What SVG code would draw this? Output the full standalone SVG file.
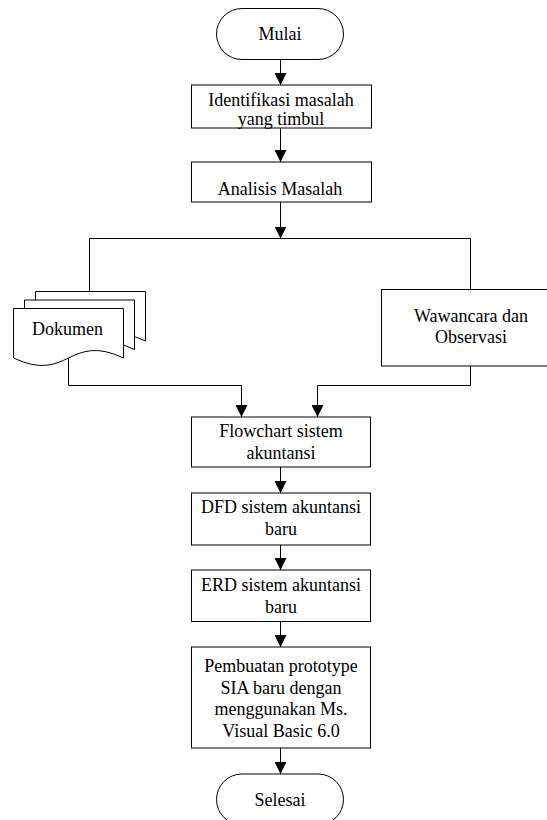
<svg xmlns="http://www.w3.org/2000/svg" width="547" height="820" viewBox="0 0 547 820">
<defs>
<style>
.s{fill:#fff;stroke:#000;stroke-width:1}
.c{fill:none;stroke:#000;stroke-width:1}
.t{font-family:"Liberation Serif","Times New Roman",serif;font-size:18px;fill:#000;text-anchor:middle}
</style>
<marker id="ah" markerUnits="userSpaceOnUse" markerWidth="12" markerHeight="12" viewBox="0 0 10 10" refX="10" refY="5" orient="auto">
<path d="M0,0 L10,5 L0,10 Z" fill="#000"/>
</marker>
</defs>
<g id="connectors">
<path class="c" d="M280.5,59.5 V85" marker-end="url(#ah)"/>
<path class="c" d="M280.5,128 V162" marker-end="url(#ah)"/>
<path class="c" d="M280.5,202 V238.5" marker-end="url(#ah)"/>
<path class="c" d="M89.5,292 V238.5 H470.5 V289"/>
<path class="c" d="M68.5,355 V385.5 H241.5 V417" marker-end="url(#ah)"/>
<path class="c" d="M470.5,366 V385.5 H317.5 V417" marker-end="url(#ah)"/>
<path class="c" d="M280.5,467 V493" marker-end="url(#ah)"/>
<path class="c" d="M280.5,545 V570" marker-end="url(#ah)"/>
<path class="c" d="M280.5,621.5 V647" marker-end="url(#ah)"/>
<path class="c" d="M280.5,748 V774" marker-end="url(#ah)"/>
</g>
<g id="mulai">
<rect class="s" x="216.5" y="8.5" width="127" height="51" rx="25.5" ry="25.5"/>
<text class="t" x="280" y="39.5">Mulai</text>
</g>
<g id="identifikasi">
<rect class="s" x="191.5" y="85" width="180" height="43"/>
<text class="t" x="281" y="106">Identifikasi masalah</text>
<text class="t" x="281" y="125">yang timbul</text>
</g>
<g id="analisis">
<rect class="s" x="191.5" y="162" width="180" height="40"/>
<text class="t" x="280" y="195">Analisis Masalah</text>
</g>
<g id="dokumen">
<path class="s" d="M35.5,291.5 H145.5 V341 C90.5,315 90.5,367 35.5,341 Z"/>
<path class="s" d="M24.5,300 H134.5 V349.5 C79.5,323.5 79.5,375.5 24.5,349.5 Z"/>
<path class="s" d="M13.5,308.5 H123.5 V358 C68.5,332 68.5,384 13.5,358 Z"/>
<text class="t" x="67.5" y="335">Dokumen</text>
</g>
<g id="wawancara">
<rect class="s" x="381.5" y="289.5" width="180" height="76.5"/>
<text class="t" x="471" y="321.5">Wawancara dan</text>
<text class="t" x="471" y="343">Observasi</text>
</g>
<g id="flowchart">
<rect class="s" x="191.5" y="417" width="179" height="50"/>
<text class="t" x="281" y="437">Flowchart sistem</text>
<text class="t" x="281" y="459">akuntansi</text>
</g>
<g id="dfd">
<rect class="s" x="191.5" y="493" width="179" height="52"/>
<text class="t" x="281" y="513">DFD sistem akuntansi</text>
<text class="t" x="281" y="535">baru</text>
</g>
<g id="erd">
<rect class="s" x="191.5" y="570" width="179" height="51.5"/>
<text class="t" x="281" y="590.5">ERD sistem akuntansi</text>
<text class="t" x="281" y="612.5">baru</text>
</g>
<g id="pembuatan">
<rect class="s" x="191.5" y="647" width="179" height="101"/>
<text class="t" x="281" y="671.5">Pembuatan prototype</text>
<text class="t" x="281" y="693.5">SIA baru dengan</text>
<text class="t" x="281" y="715">menggunakan Ms.</text>
<text class="t" x="281" y="737">Visual Basic 6.0</text>
</g>
<g id="selesai">
<rect class="s" x="216.5" y="774" width="127" height="51" rx="25.5" ry="25.5"/>
<text class="t" x="280" y="806">Selesai</text>
</g>
</svg>
